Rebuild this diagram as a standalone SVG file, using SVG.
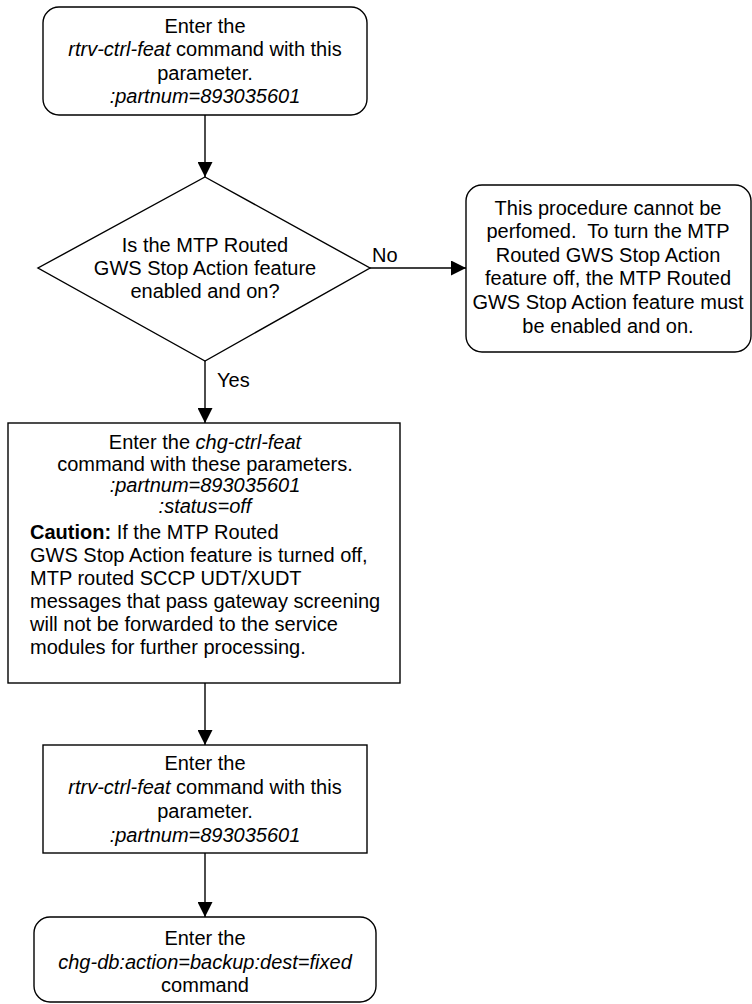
<svg xmlns="http://www.w3.org/2000/svg" width="752" height="1004" viewBox="0 0 752 1004">
<defs>
<style>
.box{fill:#fff;stroke:#000;stroke-width:1.4}
.t{font-family:"Liberation Sans",Arial,sans-serif;font-size:20px;fill:#000}
.c{text-anchor:middle}
.i{font-style:italic}
.b{font-weight:bold}
.ln{fill:none;stroke:#000;stroke-width:1.4}
</style>
<marker id="ah" markerWidth="15" markerHeight="15" viewBox="0 0 15 15" refX="15" refY="7.5" orient="auto" markerUnits="userSpaceOnUse">
<path d="M0,0 L15,7.5 L0,15 Z" fill="#000"/>
</marker>
</defs>
<g id="connectors">
<line class="ln" x1="205" y1="115" x2="205" y2="177" marker-end="url(#ah)"/>
<line class="ln" x1="370" y1="268" x2="466" y2="268" marker-end="url(#ah)"/>
<text class="t" x="372" y="262">No</text>
<line class="ln" x1="205" y1="361" x2="205" y2="423" marker-end="url(#ah)"/>
<text class="t" x="217" y="387">Yes</text>
<line class="ln" x1="205" y1="683" x2="205" y2="745" marker-end="url(#ah)"/>
<line class="ln" x1="205" y1="853" x2="205" y2="917" marker-end="url(#ah)"/>
</g>
<g id="n1">
<rect class="box" x="43" y="7" width="324" height="108" rx="16"/>
<text class="t c" x="205" y="33">Enter the</text>
<text class="t c" x="205" y="56"><tspan class="i">rtrv-ctrl-feat</tspan> command with this</text>
<text class="t c" x="205" y="80">parameter.</text>
<text class="t c i" x="205" y="103">:partnum=893035601</text>
</g>
<g id="n2">
<polygon class="box" points="205,177 370,268 205,361 38,268"/>
<text class="t c" x="205" y="252">Is the MTP Routed</text>
<text class="t c" x="205" y="275">GWS Stop Action feature</text>
<text class="t c" x="205" y="298">enabled and on?</text>
</g>
<g id="n3">
<rect class="box" x="466" y="185" width="285" height="167" rx="16"/>
<text class="t c" x="608" y="215">This procedure cannot be</text>
<text class="t c" x="608" y="238" xml:space="preserve">perfomed.  To turn the MTP</text>
<text class="t c" x="608" y="262">Routed GWS Stop Action</text>
<text class="t c" x="608" y="285">feature off, the MTP Routed</text>
<text class="t c" x="608" y="309">GWS Stop Action feature must</text>
<text class="t c" x="608" y="333">be enabled and on.</text>
</g>
<g id="n4">
<rect class="box" x="8" y="423" width="392" height="260"/>
<text class="t c" x="205" y="449">Enter the <tspan class="i">chg-ctrl-feat</tspan></text>
<text class="t c" x="205" y="471">command with these parameters.</text>
<text class="t c i" x="205" y="492">:partnum=893035601</text>
<text class="t c i" x="205" y="513">:status=off</text>
<text class="t" x="30" y="539"><tspan class="b">Caution:</tspan> If the MTP Routed</text>
<text class="t" x="30" y="562">GWS Stop Action feature is turned off,</text>
<text class="t" x="30" y="585">MTP routed SCCP UDT/XUDT</text>
<text class="t" x="30" y="608">messages that pass gateway screening</text>
<text class="t" x="30" y="631">will not be forwarded to the service</text>
<text class="t" x="30" y="654">modules for further processing.</text>
</g>
<g id="n5">
<rect class="box" x="43" y="745" width="324" height="108"/>
<text class="t c" x="205" y="770">Enter the</text>
<text class="t c" x="205" y="794"><tspan class="i">rtrv-ctrl-feat</tspan> command with this</text>
<text class="t c" x="205" y="818">parameter.</text>
<text class="t c i" x="205" y="842">:partnum=893035601</text>
</g>
<g id="n6">
<rect class="box" x="34" y="917" width="342" height="85" rx="16"/>
<text class="t c" x="205" y="945">Enter the</text>
<text class="t c i" x="205" y="969">chg-db:action=backup:dest=fixed</text>
<text class="t c" x="205" y="992">command</text>
</g>
</svg>
